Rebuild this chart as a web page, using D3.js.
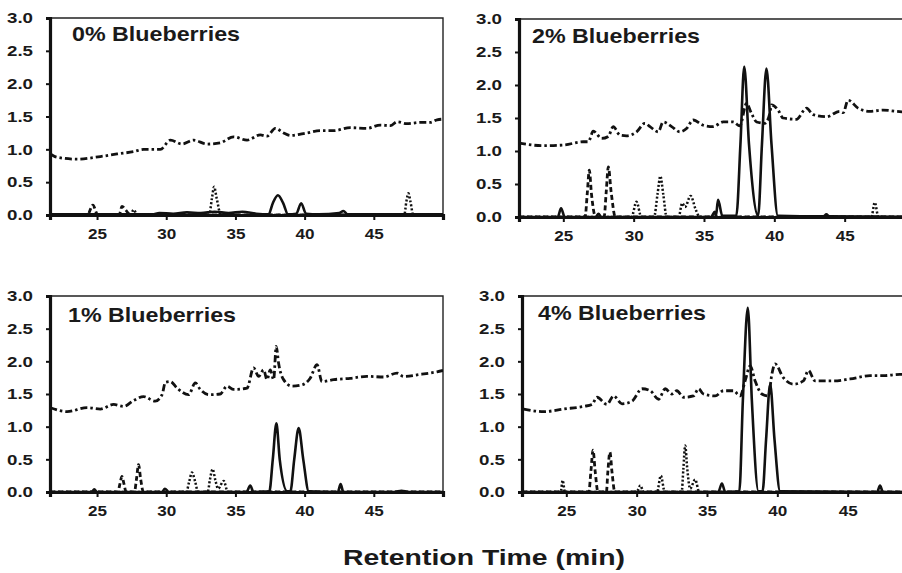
<!DOCTYPE html>
<html>
<head>
<meta charset="utf-8">
<script src="https://cdn.jsdelivr.net/npm/d3@7"></script>
<style>
  body { margin: 0; background: #fff; }
  svg { display: block; }
</style>
</head>
<body>
<div id="graph-container"></div>
<script>
// labels
var titles = ["0% Blueberries", "2% Blueberries", "1% Blueberries", "4% Blueberries"];
var xTicks = [25, 30, 35, 40, 45];
var yTicks = [0, 0.5, 1.0, 1.5, 2.0, 2.5, 3.0];
var xTitle = "Retention Time (min)";

// 0% blueberries  [time, absorbance]
var solid0 = [[21.6,0.01],[29,0.01],[29.5,0.03],[30.5,0.02],[31.5,0.04],[32.5,0.03],[33.5,0.05],[34.5,0.03],[35.5,0.05],[36.5,0.02],
  [37.4,0.01],[37.7,0.18],[38.07,0.30],[38.45,0.18],[38.8,0.01],[39.4,0.02],[39.75,0.18],[40.1,0.02],[41,0.01],
  [42.5,0.03],[42.8,0.06],[43.1,0.01],[50,0.01]];
var dashed0 = [[21.6,0],[24.3,0],[24.7,0.15],[25.05,0],[26.6,0],[26.8,0.13],[27.3,0.02],[27.5,0],[50,0]];
var dotted0 = [[21.6,0],[27.4,0],[27.65,0.08],[27.9,0],[33.1,0],[33.3,0.25],[33.46,0.43],[33.65,0.25],[33.95,0],
  [47.2,0],[47.35,0.2],[47.5,0.33],[47.65,0.2],[47.85,0],[50,0]];
var dashdot0 = [[21.62,0.93],[22.1,0.88],[23.55,0.85],[25.24,0.89],[26.45,0.93],[27.64,0.965],[28.37,1.0],[29.57,1.0],
  [30.3,1.14],[31.14,1.08],[31.98,1.14],[32.95,1.08],[33.9,1.10],[34.87,1.19],[35.84,1.14],[36.8,1.22],[37.28,1.20],
  [37.88,1.32],[38.48,1.25],[38.97,1.21],[40.17,1.25],[41.13,1.285],[42.1,1.285],[43.3,1.33],[44.5,1.32],[45.47,1.37],
  [46.2,1.36],[46.68,1.42],[47.4,1.39],[48.36,1.41],[49.08,1.41],[49.57,1.45],[50,1.46]];

// 2% blueberries
var solid2 = [[21.85,0],[24.6,0],[24.84,0.13],[25.1,0],[27.3,0],[27.5,0.05],[27.7,0],[35.5,0],[35.77,0.08],[35.85,0.02],
  [36.0,0.26],[36.3,0.02],[37.3,0.02],[37.59,1.1],[37.86,2.28],[38.2,1.1],[38.85,0.02],[39.12,1.1],[39.44,2.25],
  [39.8,1.1],[40.25,0.02],[43.5,0.01],[43.7,0.04],[43.9,0.01],[50,0]];
var dashed2 = [[21.85,0],[26.55,0],[26.7,0.35],[26.85,0.71],[27.0,0.35],[27.3,0],[27.9,0],[28.05,0.38],[28.2,0.76],
  [28.4,0.38],[28.7,0],[50,0]];
var dotted2 = [[21.85,0],[29.85,0],[30.2,0.23],[30.55,0],[31.45,0],[31.7,0.35],[31.9,0.62],[32.1,0.35],[32.35,0],
  [33.2,0],[33.45,0.21],[33.65,0.15],[34.05,0.32],[34.4,0.12],[34.7,0],[46.9,0],[47.14,0.22],[47.4,0],[50,0]];
var dashdot2 = [[21.85,1.12],[23.58,1.08],[25,1.09],[26.42,1.14],[26.78,1.14],[27.13,1.30],[27.73,1.19],[28.2,1.22],
  [28.55,1.37],[29.03,1.24],[29.5,1.23],[30.21,1.29],[30.8,1.42],[31.16,1.37],[31.75,1.29],[32.1,1.44],[32.7,1.37],
  [33.29,1.29],[33.76,1.34],[34.23,1.47],[34.94,1.39],[35.65,1.37],[36.36,1.44],[37.07,1.44],[37.55,1.38],[38.02,1.72],
  [38.38,1.57],[38.74,1.44],[39.33,1.42],[39.68,1.57],[39.8,1.70],[40.27,1.62],[40.62,1.50],[41.57,1.48],[42.29,1.65],
  [42.76,1.55],[43.71,1.52],[44.65,1.60],[44.9,1.58],[45.24,1.77],[45.95,1.65],[46.78,1.60],[47.73,1.62],[48.68,1.60],[50,1.58]];

// 1% blueberries
var solid1 = [[21.6,0],[24.6,0],[24.8,0.04],[25.0,0],[29.7,0],[29.9,0.05],[30.2,0],[35.8,0],[36.07,0.1],[36.3,0],
  [37.45,0.01],[37.7,0.5],[37.96,1.05],[38.2,0.5],[38.75,0.01],[38.97,0.01],[39.25,0.5],[39.57,0.98],[39.9,0.5],
  [40.3,0.01],[42.4,0],[42.6,0.12],[42.8,0],[46.5,0],[47,0.02],[47.5,0],[50,0]];
var dashed1 = [[21.6,0],[26.5,0],[26.65,0.12],[26.8,0.24],[26.95,0.12],[27.1,0],[27.7,0],[27.85,0.2],[28.0,0.42],
  [28.15,0.2],[28.35,0],[50,0]];
var dotted1 = [[21.6,0],[31.45,0],[31.65,0.15],[31.86,0.30],[32.1,0.15],[32.3,0],[33.0,0],[33.15,0.18],[33.35,0.35],
  [33.55,0.18],[33.75,0.05],[34.15,0.17],[34.45,0],[50,0]];
var dashdot1 = [[21.62,1.29],[22.83,1.23],[24.28,1.29],[25.24,1.27],[26.2,1.34],[26.92,1.31],[27.64,1.40],[28.37,1.46],
  [29.2,1.39],[29.7,1.49],[29.94,1.68],[30.3,1.69],[30.78,1.59],[31.62,1.49],[32.1,1.67],[32.46,1.57],[33.06,1.49],
  [33.9,1.50],[34.39,1.62],[34.87,1.57],[35.84,1.59],[36.31,1.90],[36.68,1.77],[37.04,1.87],[37.28,1.72],[37.52,1.87],
  [37.76,1.72],[37.95,2.23],[38.12,1.97],[38.48,1.72],[39.09,1.62],[39.81,1.64],[40.4,1.74],[40.9,1.95],[41.25,1.69],
  [42.1,1.72],[43.3,1.74],[44.5,1.77],[45.7,1.76],[46.68,1.82],[47.15,1.77],[48.36,1.80],[49.57,1.84],[50,1.86]];

// 4% blueberries
var solid4 = [[21.85,0],[35.8,0],[36.06,0.13],[36.3,0],[37.3,0.01],[37.55,1.4],[37.9,2.82],[38.19,1.4],[38.66,0.01],
  [38.95,0.01],[39.2,0.8],[39.49,1.65],[39.8,0.8],[40.2,0.01],[47.1,0],[47.3,0.1],[47.5,0],[50,0]];
var dashed4 = [[21.85,0],[26.6,0],[26.75,0.32],[26.9,0.64],[27.05,0.32],[27.25,0],[27.85,0],[27.95,0.3],[28.1,0.61],
  [28.25,0.3],[28.45,0],[50,0]];
var dotted4 = [[21.85,0],[24.6,0],[24.74,0.18],[24.9,0],[30.0,0],[30.26,0.10],[30.5,0],[31.45,0],[31.72,0.25],[32.0,0],
  [33.2,0],[33.32,0.35],[33.45,0.71],[33.6,0.35],[33.8,0.05],[34.16,0.19],[34.45,0],[50,0]];
var dashdot4 = [[21.97,1.27],[23.39,1.23],[24.81,1.27],[26.23,1.31],[26.83,1.34],[27.18,1.45],[27.89,1.34],[28.36,1.47],
  [28.96,1.35],[29.67,1.39],[30.38,1.58],[30.97,1.55],[31.56,1.42],[32.03,1.58],[32.5,1.50],[32.86,1.55],[33.33,1.45],
  [34.04,1.47],[34.4,1.58],[34.75,1.50],[35.58,1.47],[36.17,1.55],[36.88,1.55],[37.36,1.47],[37.71,1.70],[38.07,1.93],
  [38.42,1.70],[38.9,1.50],[39.37,1.47],[39.61,1.80],[39.84,1.96],[40.43,1.75],[41.14,1.65],[41.85,1.70],[42.21,1.86],
  [42.68,1.70],[43.98,1.70],[45.17,1.73],[46.59,1.78],[47.53,1.78],[48.72,1.80],[50,1.80]];

// panel boxes on the page (left, right, top, bottom, first minute)
var panels = [
  { left: 50,  right: 443, top: 18,  bottom: 215, x0: 21.6,  title: [72, 41],  data: [solid0, dashed0, dotted0, dashdot0] },
  { left: 519, right: 915, top: 19,  bottom: 217, x0: 21.85, title: [532, 43], data: [solid2, dashed2, dotted2, dashdot2] },
  { left: 50,  right: 443, top: 296, bottom: 492, x0: 21.6,  title: [68, 322], data: [solid1, dashed1, dotted1, dashdot1] },
  { left: 522, right: 918, top: 296, bottom: 492, x0: 21.85, title: [538, 320], data: [solid4, dashed4, dotted4, dashdot4] }
];

// line styles: solid, dashed, dotted, dash-dot
var styles = [
  { width: 2.6, dash: null },
  { width: 2.8, dash: "5,3" },
  { width: 2.5, dash: "2,2" },
  { width: 2.8, dash: "7,3,2.5,3" }
];

var font = "'Liberation Sans', Arial, sans-serif";
var width = 902, height = 573;
var svg = d3.select("#graph-container")
            .append("svg")
            .attr("width", width)
            .attr("height", height)
            .style("font-family", font);

panels.forEach(function(p, i) {
    var xScale = d3.scaleLinear().domain([p.x0, 50]).range([p.left, p.right]);
    var yScale = d3.scaleLinear().domain([0, 3]).range([p.bottom, p.top]);

    var g = svg.append("g");

    // clip so traces stay in the box
    g.append("clipPath").attr("id", "clip" + i)
     .append("rect")
     .attr("x", p.left).attr("y", p.top - 4)
     .attr("width", p.right - p.left).attr("height", p.bottom - p.top + 4);

    // thin frame on top and right
    g.append("path")
     .attr("d", `M${p.left},${p.top}H${p.right}V${p.bottom}`)
     .attr("fill", "none")
     .attr("stroke", "#222")
     .attr("stroke-width", 1.4);

    var line = d3.line()
                 .x(d => xScale(d[0]))
                 .y(d => yScale(d[1]))
                 .curve(d3.curveMonotoneX);

    p.data.forEach(function(series, k) {
        g.append("path")
         .datum(series)
         .attr("clip-path", `url(#clip${i})`)
         .attr("fill", "none")
         .attr("stroke", "#111")
         .attr("stroke-width", styles[k].width)
         .attr("stroke-dasharray", styles[k].dash)
         .attr("d", line);
    });

    // X axis
    var xAxis = g.append("g")
       .attr("transform", `translate(0, ${p.bottom})`)
       .call(d3.axisBottom(xScale).tickValues(xTicks).tickSize(5).tickPadding(8).tickFormat(d3.format("d")));

    // Y axis
    var yAxis = g.append("g")
       .attr("transform", `translate(${p.left}, 0)`)
       .call(d3.axisLeft(yScale).tickValues(yTicks).tickSize(4).tickPadding(13).tickFormat(d3.format(".1f")));

    [xAxis, yAxis].forEach(function(ax) {
        ax.select(".domain").attr("stroke", "#111").attr("stroke-width", 3.2);
        ax.selectAll(".tick line").attr("stroke", "#111").attr("stroke-width", 2);
        ax.selectAll(".tick text")
          .attr("fill", "#1a1a1a")
          .style("font-size", "15px")
          .style("font-weight", "bold")
          .style("font-family", font)
          .attr("lengthAdjust", "spacingAndGlyphs");
    });
    // stretch digits a bit, like the scanned figure
    xAxis.selectAll(".tick text").attr("textLength", 19);
    yAxis.selectAll(".tick text").attr("textLength", 26);

    // panel title
    g.append("text")
     .attr("x", p.title[0])
     .attr("y", p.title[1])
     .attr("fill", "#1a1a1a")
     .style("font-size", "21px")
     .style("font-weight", "bold")
     .attr("textLength", 168)
     .attr("lengthAdjust", "spacingAndGlyphs")
     .text(titles[i]);
});

// shared axis title
svg.append("text")
   .attr("x", 343)
   .attr("y", 565)
   .attr("fill", "#1a1a1a")
   .style("font-size", "22px")
   .style("font-weight", "bold")
   .attr("textLength", 282)
   .attr("lengthAdjust", "spacingAndGlyphs")
   .text(xTitle);
</script>
</body>
</html>
